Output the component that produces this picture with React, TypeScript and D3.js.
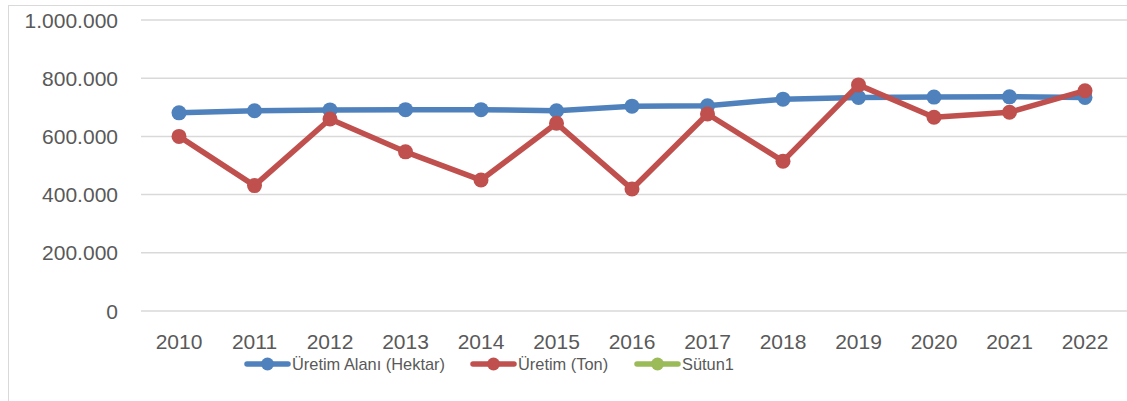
import React, { useEffect, useRef } from 'react';
import * as d3 from 'd3';

const years = ['2010', '2011', '2012', '2013', '2014', '2015', '2016', '2017', '2018', '2019', '2020', '2021', '2022'];
const alan = [681000, 688000, 691000, 692000, 692000, 688000, 704000, 705000, 728000, 734000, 735000, 736000, 734000];
const uretim = [600000, 431000, 660000, 547000, 450000, 645000, 419000, 677000, 515000, 777000, 666000, 683000, 757000];
const sutun1: number[] = [];
const yTicks = [0, 200000, 400000, 600000, 800000, 1000000];

const seriesList = [
  { name: 'Üretim Alanı (Hektar)', color: '#4F81BD', values: alan },
  { name: 'Üretim (Ton)', color: '#C0504D', values: uretim },
  { name: 'Sütun1', color: '#9BBB59', values: sutun1 },
];

const W = 1127;
const H = 401;
const font = '"Liberation Sans", Arial, sans-serif';

const App = () => {
  const ref = useRef<SVGSVGElement>(null);

  useEffect(() => {
    const svg = d3.select(ref.current);
    svg.selectAll('*').remove();

    // outer chart frame (cropped on the right and bottom)
    svg.append('rect')
      .attr('x', 8.5).attr('y', 5.5)
      .attr('width', W + 20).attr('height', H + 20)
      .attr('fill', 'white').attr('stroke', '#d9d9d9').attr('stroke-width', 1);

    const x = d3.scalePoint<string>()
      .domain(years)
      .range([179, 1085]);
    const y = d3.scaleLinear().domain([0, 1000000]).range([311, 20]);

    // gridlines
    svg.append('g')
      .selectAll('line')
      .data(yTicks)
      .enter().append('line')
      .attr('x1', 141).attr('x2', W)
      .attr('y1', d => y(d)).attr('y2', d => y(d))
      .attr('stroke', '#d9d9d9').attr('stroke-width', 1.5);

    const fmt = (v: number) => d3.format(',')(v).replace(/,/g, '.');

    // y labels
    svg.append('g')
      .attr('font-family', font).attr('font-size', 21).attr('fill', '#595959')
      .selectAll('text')
      .data(yTicks)
      .enter().append('text')
      .attr('x', 118).attr('y', d => y(d))
      .attr('dy', '0.36em')
      .attr('text-anchor', 'end')
      .text(d => fmt(d));

    // x labels
    svg.append('g')
      .attr('font-family', font).attr('font-size', 21).attr('fill', '#595959')
      .selectAll('text')
      .data(years)
      .enter().append('text')
      .attr('x', d => x(d) as number).attr('y', 349)
      .attr('text-anchor', 'middle')
      .text(d => d);

    const line = d3.line<number>()
      .x((d, i) => x(years[i]) as number)
      .y(d => y(d));

    seriesList.forEach(s => {
      if (s.values.length === 0) return;
      const g = svg.append('g');
      g.append('path')
        .datum(s.values)
        .attr('fill', 'none')
        .attr('stroke', s.color)
        .attr('stroke-width', 5.5)
        .attr('stroke-linejoin', 'round')
        .attr('d', line);
      g.selectAll('circle')
        .data(s.values)
        .enter().append('circle')
        .attr('cx', (d, i) => x(years[i]) as number)
        .attr('cy', d => y(d))
        .attr('r', 7.5)
        .attr('fill', s.color);
    });

    // legend
    const legendX = [247, 473, 637];
    const legend = svg.append('g')
      .attr('font-family', font).attr('font-size', 16.4).attr('fill', '#595959')
      .selectAll('g')
      .data(seriesList)
      .enter().append('g')
      .attr('transform', (d, i) => `translate(${legendX[i]},364)`);
    legend.append('line')
      .attr('x1', 0).attr('x2', 41).attr('y1', 0).attr('y2', 0)
      .attr('stroke', d => d.color).attr('stroke-width', 5.5)
      .attr('stroke-linecap', 'round');
    legend.append('circle')
      .attr('cx', 20.5).attr('cy', 0).attr('r', 6.5)
      .attr('fill', d => d.color);
    legend.append('text')
      .attr('x', 45).attr('y', 6)
      .text(d => d.name);
  }, []);

  return (
    <svg
      ref={ref}
      width={W}
      height={H}
      style={{ position: 'absolute', left: 0, top: 0, background: 'white' }}
    />
  );
};

export default App;
